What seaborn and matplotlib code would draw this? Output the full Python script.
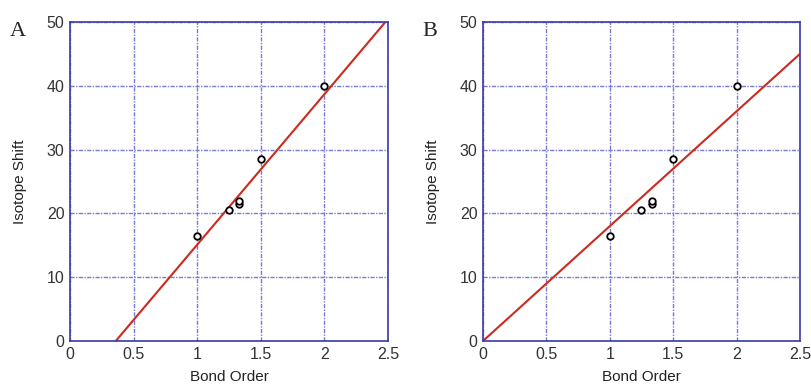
import matplotlib
matplotlib.use('Agg')
import matplotlib.pyplot as plt
import seaborn as sns
import pandas as pd

# measured points (same in both panels)
bond_order = [1.0, 1.25, 1.33, 1.33, 1.5, 2.0]
isotope_shift = [16.5, 20.5, 21.5, 22.0, 28.5, 40.0]

# fitted lines
fit_a_x = [0.36, 2.48]
fit_a_y = [0.0, 50.0]
fit_b_x = [0.0, 2.5]
fit_b_y = [0.0, 45.0]

x_ticks = [0, 0.5, 1, 1.5, 2, 2.5]
x_labels = ['0', '0.5', '1', '1.5', '2', '2.5']
y_ticks = [0, 10, 20, 30, 40, 50]

sns.set_style('white')
plt.rcParams['font.family'] = ['Liberation Sans', 'DejaVu Sans']

pts = pd.DataFrame({'Bond Order': bond_order, 'Isotope Shift': isotope_shift})

fig = plt.figure(figsize=(8.12, 3.85), dpi=100)
ax_a = fig.add_axes([0.0862, 0.1143, 0.3916, 0.8286])
ax_b = fig.add_axes([0.5948, 0.1143, 0.3904, 0.8286])

blue = '#3a3aa8'
grid_blue = '#7a7ad0'

for ax, fx, fy, letter in [(ax_a, fit_a_x, fit_a_y, 'A'), (ax_b, fit_b_x, fit_b_y, 'B')]:
    ax.set_xlim(0, 2.5)
    ax.set_ylim(0, 50)
    ax.set_xticks(x_ticks)
    ax.set_xticklabels(x_labels)
    ax.set_yticks(y_ticks)
    ax.grid(True, color=grid_blue, linestyle=(0, (3, 1, 1, 1)), linewidth=1.0)
    ax.set_axisbelow(True)
    for s in ax.spines.values():
        s.set_color(blue)
        s.set_linewidth(1.2)
    sns.lineplot(x=fx, y=fy, ax=ax, color='#cc2a1e', linewidth=1.5)
    sns.scatterplot(data=pts, x='Bond Order', y='Isotope Shift', ax=ax,
                    marker='o', s=22, facecolor='white', edgecolor='black',
                    linewidth=1.3, zorder=5)
    ax.tick_params(axis='both', length=0, labelsize=11.5, colors='#333333', pad=4)
    ax.set_xlabel('Bond Order', fontsize=11, color='#222222', labelpad=6)
    ax.set_ylabel('Isotope Shift', fontsize=11, color='#222222', labelpad=14)
    ax.text(-0.19, 1.0, letter, transform=ax.transAxes, fontsize=16,
            family='Liberation Serif', va='top', ha='left')

fig.savefig('out.png', dpi=100)
